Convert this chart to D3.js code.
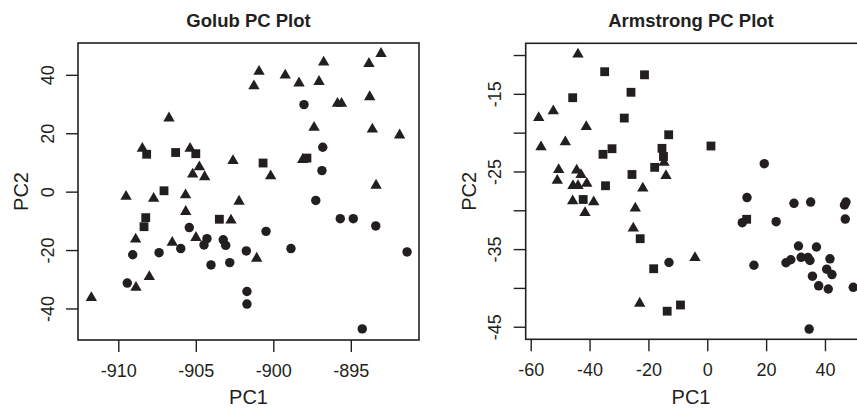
<!DOCTYPE html>
<html>
<head>
<meta charset="utf-8">
<script src="https://cdn.jsdelivr.net/npm/d3@7"></script>
<style>
  html, body { margin: 0; padding: 0; background: #fff; }
  svg { display: block; font-family: "Liberation Sans", Arial, Helvetica, sans-serif; }
</style>
</head>
<body>
<svg id="chart" width="857" height="412"></svg>
<script>
// ---------------- DATA ----------------
// Golub (PC1, PC2)
const golubTriangles = [
  [-893.05,47.6],[-896.75,44.66],[-893.83,44.18],[-900.92,41.5],[-899.23,40.2],[-901.25,36.5],
  [-898.34,37.5],[-897.05,38.0],[-895.86,30.5],[-895.6,30.5],[-893.78,32.8],[-906.73,25.5],
  [-897.37,22.3],[-893.61,21.7],[-891.85,19.7],[-908.45,15.1],[-905.37,15.1],[-902.6,10.9],
  [-898.1,11.3],[-904.77,8.8],[-905.2,6.3],[-904.43,5.4],[-900.17,5.7],[-893.37,2.5],
  [-909.5,-1.3],[-907.72,-2.0],[-905.66,-0.8],[-902.21,-3.0],[-905.65,-6.5],[-902.73,-9.45],
  [-908.88,-15.96],[-904.99,-15.4],[-906.52,-17.1],[-901.07,-22.5],[-908.0,-28.8],
  [-908.86,-32.5],[-911.74,-36.0]
];
const golubSquares = [
  [-908.17,12.8],[-906.3,13.4],[-905.0,13.0],[-900.66,9.8],[-897.83,11.5],[-907.05,0.3],
  [-903.48,-9.45],[-908.23,-8.9],[-908.34,-12.0]
];
const golubCircles = [
  [-898.02,29.8],[-896.81,15.2],[-896.86,7.2],[-897.26,-3.0],[-905.42,-12.3],[-904.28,-16.1],
  [-904.47,-18.25],[-903.23,-16.5],[-903.07,-18.4],[-905.97,-19.5],[-900.47,-13.6],
  [-909.07,-21.6],[-907.37,-20.9],[-901.74,-20.3],[-904.02,-25.1],[-902.81,-24.3],
  [-909.42,-31.3],[-901.7,-34.2],[-901.7,-38.5],[-895.68,-9.25],[-894.84,-9.25],
  [-893.39,-11.75],[-898.86,-19.5],[-891.37,-20.65],[-894.26,-47.0]
];
const golubXTicks = [-910, -905, -900, -895];
const golubYTicks = [-40, -20, 0, 20, 40];
const golubYLabels = [-40, -20, 0, 20, 40];

// Armstrong (PC1, PC2)
const armTriangles = [
  [-43.93,-9.78],[-52.32,-17.08],[-57.28,-17.95],[-41.11,-19.11],[-56.5,-21.72],[-48.24,-21.08],
  [-50.49,-24.65],[-44.37,-24.71],[-42.91,-25.3],[-50.96,-26.04],[-45.63,-26.71],[-43.93,-26.71],
  [-40.94,-26.42],[-21.91,-27.04],[-14.03,-25.42],[-14.71,-23.72],[-45.73,-28.68],[-38.59,-28.81],
  [-41.55,-30.19],[-24.46,-29.61],[-25.14,-32.18],[-22.96,-41.86],[-4.17,-35.98]
];
const armSquares = [
  [-34.86,-12.15],[-21.33,-12.55],[-25.92,-14.8],[-45.73,-15.5],[-28.2,-18.12],[-13.11,-20.27],
  [-32.37,-22.07],[-35.43,-22.79],[-15.39,-22.02],[-14.88,-23.07],[-17.87,-24.47],[-25.58,-25.39],
  [-34.58,-26.84],[-42.16,-28.61],[-22.79,-33.66],[-18.21,-37.53],[-13.62,-43.0],[-9.1,-42.2],
  [1.26,-21.72],[13.39,-31.16]
];
const armCircles = [
  [19.37,-24.0],[13.5,-28.36],[29.47,-29.1],[35.14,-28.94],[46.63,-29.32],[47.13,-28.94],
  [46.9,-31.13],[11.9,-31.6],[23.42,-31.47],[31.0,-34.6],[37.11,-34.73],[-13.01,-36.73],
  [15.87,-37.08],[26.75,-36.76],[28.38,-36.37],[31.91,-36.06],[34.22,-36.09],[34.9,-36.47],
  [41.7,-36.25],[40.58,-37.59],[42.38,-38.28],[35.75,-38.49],[37.86,-39.73],[41.12,-40.14],
  [49.62,-39.92],[34.63,-45.3]
];
const armXTicks = [-60, -40, -20, 0, 20, 40];
const armYTicks = [-45, -40, -35, -30, -25, -20, -15, -10];
const armYLabels = [-45, -35, -25, -15];

const titles = ["Golub PC Plot", "Armstrong PC Plot"];
const xTitle = "PC1", yTitle = "PC2";

// ---------------- DRAW ----------------
const svg = d3.select("#chart");
const ink = "#231f20";

const panels = [
  { title: titles[0], tri: golubTriangles, sq: golubSquares, circ: golubCircles,
    xDomain: [-912.6, -890.6], yDomain: [-50.8, 50.9],
    xTicks: golubXTicks, yTicks: golubYTicks, yLabels: golubYLabels,
    left: 78, right: 419, top: 43, bottom: 340, center: 248.5 },
  { title: titles[1], tri: armTriangles, sq: armSquares, circ: armCircles,
    xDomain: [-61.7, 50.75], yDomain: [-46.62, -8.49],
    xTicks: armXTicks, yTicks: armYTicks, yLabels: armYLabels,
    left: 525.7, right: 856.6, top: 43.3, bottom: 339.3, center: 691 }
];

const triSym = d3.symbol().type(d3.symbolTriangle).size(56);
const sqSym = d3.symbol().type(d3.symbolSquare).size(78);
const circSym = d3.symbol().type(d3.symbolCircle).size(70);

panels.forEach((p, i) => {
  const x = d3.scaleLinear().domain(p.xDomain).range([p.left, p.right]);
  const y = d3.scaleLinear().domain(p.yDomain).range([p.bottom, p.top]);
  const g = svg.append("g");

  // points
  const pts = g.append("g").attr("fill", ink);
  pts.selectAll(".tri").data(p.tri).join("path")
    .attr("d", triSym).attr("transform", d => `translate(${x(d[0])},${y(d[1]) + 1})`);
  pts.selectAll(".sq").data(p.sq).join("path")
    .attr("d", sqSym).attr("transform", d => `translate(${x(d[0])},${y(d[1])})`);
  pts.selectAll(".circ").data(p.circ).join("path")
    .attr("d", circSym).attr("transform", d => `translate(${x(d[0])},${y(d[1])})`);

  // box (right panel's right edge runs off the canvas)
  const boxRight = i === 1 ? 870 : p.right;
  g.append("rect")
    .attr("x", p.left).attr("y", p.top)
    .attr("width", boxRight - p.left).attr("height", p.bottom - p.top)
    .attr("fill", "none").attr("stroke", ink).attr("stroke-width", 1.6);

  // x axis
  const xa = g.append("g").attr("transform", `translate(0,${p.bottom})`)
    .call(d3.axisBottom(x).tickValues(p.xTicks).tickSize(12).tickPadding(10)
      .tickFormat(d => String(d)));
  xa.select(".domain").remove();
  xa.selectAll("line").attr("stroke", ink).attr("stroke-width", 1.4);
  xa.selectAll("text").attr("fill", ink).attr("font-size", 18)
    .attr("dy", null).attr("y", 36.5);

  // y axis
  const ya = g.append("g").attr("transform", `translate(${p.left},0)`)
    .call(d3.axisLeft(y).tickValues(p.yTicks).tickSize(12)
      .tickFormat(d => p.yLabels.includes(d) ? String(d) : ""));
  ya.select(".domain").remove();
  ya.selectAll("line").attr("stroke", ink).attr("stroke-width", 1.4);
  ya.selectAll(".tick text")
    .attr("fill", ink).attr("font-size", 18)
    .attr("x", 0).attr("y", 0).attr("dy", null)
    .attr("text-anchor", "middle")
    .attr("transform", "translate(-24.5,0) rotate(-90)");

  // title
  g.append("text")
    .attr("x", p.center).attr("y", 27)
    .attr("text-anchor", "middle").attr("font-weight", "bold").attr("font-size", 18.5)
    .attr("fill", ink).text(p.title);

  // axis titles
  g.append("text")
    .attr("x", p.center).attr("y", 404)
    .attr("text-anchor", "middle").attr("font-size", 20).attr("fill", ink).text(xTitle);
  g.append("text")
    .attr("transform", `translate(${p.left - 50},${(p.top + p.bottom) / 2}) rotate(-90)`)
    .attr("text-anchor", "middle").attr("font-size", 20).attr("fill", ink).text(yTitle);
});
</script>
</body>
</html>
